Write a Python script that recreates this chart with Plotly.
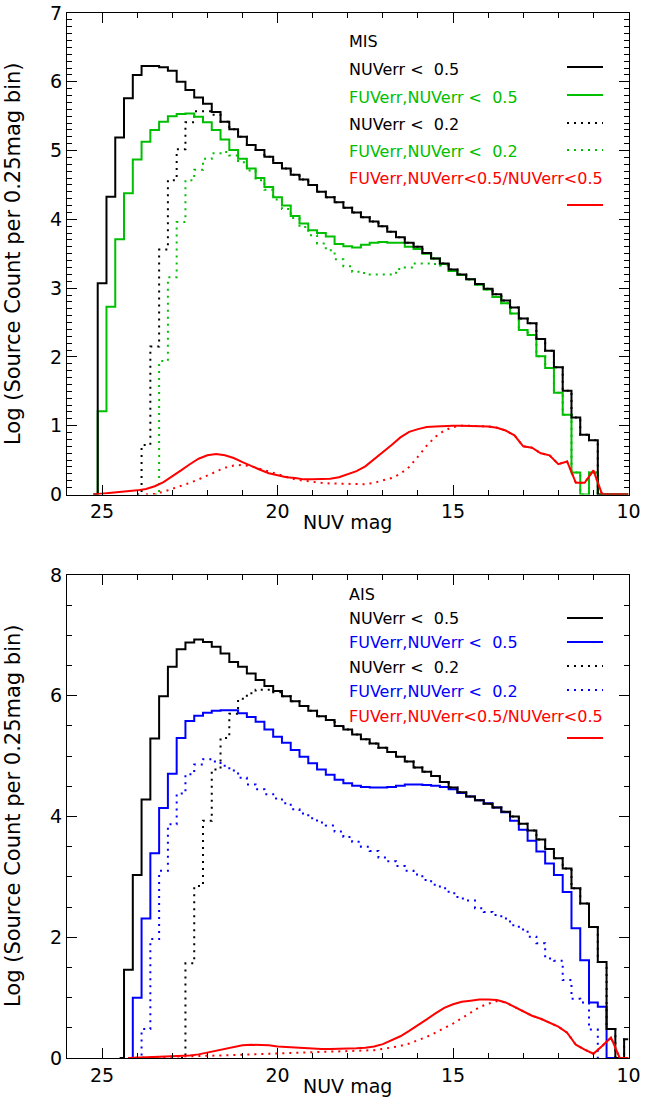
import plotly.graph_objects as go

# ---------------- data ----------------
# bin centres (NUV mag, 0.25 mag bins)
MAG = [25.25, 25.0, 24.75, 24.5, 24.25, 24.0, 23.75, 23.5,
       23.25, 23.0, 22.75, 22.5, 22.25, 22.0, 21.75, 21.5,
       21.25, 21.0, 20.75, 20.5, 20.25, 20.0, 19.75, 19.5,
       19.25, 19.0, 18.75, 18.5, 18.25, 18.0, 17.75, 17.5,
       17.25, 17.0, 16.75, 16.5, 16.25, 16.0, 15.75, 15.5,
       15.25, 15.0, 14.75, 14.5, 14.25, 14.0, 13.75, 13.5,
       13.25, 13.0, 12.75, 12.5, 12.25, 12.0, 11.75, 11.5,
       11.25, 11.0, 10.75, 10.5, 10.25, 10.0]

# ---- MIS panel ----
mis_nuv05 = [0, 3.07, 4.33, 5.19, 5.76, 6.10, 6.23, 6.23,
             6.21, 6.16, 6.00, 5.88, 5.77, 5.68, 5.56, 5.42,
             5.31, 5.20, 5.08, 5.01, 4.91, 4.82, 4.74, 4.65,
             4.58, 4.50, 4.40, 4.32, 4.25, 4.17, 4.10, 4.03,
             3.97, 3.90, 3.82, 3.74, 3.66, 3.60, 3.51, 3.43,
             3.36, 3.27, 3.20, 3.13, 3.06, 2.99, 2.91, 2.82,
             2.72, 2.56, 2.49, 2.26, 2.09, 1.85, 1.51, 1.12,
             0.87, 0.79, 0, 0, 0, 0]
mis_fuvnuv05 = [0, 1.21, 2.73, 3.71, 4.38, 4.87, 5.13, 5.30,
                5.42, 5.50, 5.53, 5.54, 5.49, 5.41, 5.30, 5.16,
                5.01, 4.88, 4.74, 4.60, 4.47, 4.32, 4.20, 4.05,
                3.94, 3.84, 3.80, 3.75, 3.64, 3.61, 3.59, 3.63,
                3.66, 3.67, 3.66, 3.66, 3.60, 3.57, 3.50, 3.43,
                3.35, 3.25, 3.19, 3.13, 3.05, 2.98, 2.87, 2.78,
                2.63, 2.39, 2.32, 2.01, 1.84, 1.48, 1.16, 0.32,
                0, 0.32, 0, 0, 0, 0]
mis_nuv02 = [None, None, None, None, None, 0, 0.72, 2.15,
             3.56, 4.57, 5.02, 5.41, 5.57, 5.57, 5.52, 5.42,
             5.31, 5.20, 5.08, 5.01, 4.91, 4.82, 4.74, 4.65,
             4.58, 4.50, 4.40, 4.32, 4.25, 4.17, 4.10, 4.03,
             3.97, 3.90, 3.82, 3.74, 3.66, 3.60, 3.51, 3.43,
             3.36, 3.27, 3.20, 3.13, 3.06, 2.99, 2.91, 2.82,
             2.72, 2.56, 2.49, 2.26, 2.09, 1.85, 1.51, 1.12,
             0.87, 0.79, 0, None, None, None]
mis_fuvnuv02 = [None, None, None, None, None, None, None, 0,
                1.94, 3.16, 3.96, 4.57, 4.72, 4.88, 4.96, 4.98,
                4.93, 4.83, 4.71, 4.57, 4.43, 4.29, 4.15, 4.02,
                3.89, 3.77, 3.65, 3.55, 3.42, 3.32, 3.24, 3.22,
                3.20, 3.20, 3.20, 3.28, 3.30, 3.36, 3.36, 3.35,
                3.33, 3.25, 3.19, 3.13, 3.05, 2.98, 2.87, 2.78,
                2.63, 2.39, 2.32, 2.01, 1.84, 1.48, 1.16, 0.32,
                0, 0.32, 0, None, None, None]
mis_ratio05 = [0, 0.01, 0.02, 0.03, 0.04, 0.06, 0.08, 0.12,
               0.18, 0.26, 0.35, 0.44, 0.52, 0.57, 0.59, 0.57,
               0.53, 0.47, 0.41, 0.36, 0.31, 0.28, 0.25, 0.24,
               0.22, 0.22, 0.22, 0.23, 0.25, 0.29, 0.34, 0.41,
               0.51, 0.61, 0.72, 0.83, 0.91, 0.95, 0.98, 0.99,
               1.00, 1.00, 1.00, 1.00, 1.00, 0.99, 0.97, 0.93,
               0.86, 0.70, 0.68, 0.60, 0.57, 0.44, 0.48, 0.17,
               0.17, 0.35, 0, 0, 0, 0]
mis_ratio02 = [None, None, None, None, None, None, 0, 0.01,
               0.04, 0.08, 0.12, 0.17, 0.22, 0.28, 0.34, 0.39,
               0.42, 0.43, 0.41, 0.37, 0.34, 0.30, 0.26, 0.22,
               0.20, 0.18, 0.17, 0.16, 0.16, 0.16, 0.15, 0.15,
               0.17, 0.20, 0.24, 0.30, 0.40, 0.55, 0.71, 0.84,
               0.93, 0.98, 1.00, 1.00, 1.00, 0.99, 0.97, 0.93,
               0.86, 0.70, 0.68, 0.60, 0.57, 0.44, 0.48, 0.17,
               0.17, 0.35, 0, 0, 0, 0]

# ---- AIS panel ----
ais_nuv05 = [None, None, None, 0, 1.46, 3.03, 4.28, 5.29,
             5.99, 6.48, 6.77, 6.88, 6.93, 6.89, 6.81, 6.70,
             6.56, 6.48, 6.37, 6.26, 6.16, 6.08, 5.99, 5.91,
             5.83, 5.75, 5.66, 5.60, 5.50, 5.44, 5.36, 5.28,
             5.21, 5.14, 5.07, 4.99, 4.91, 4.81, 4.74, 4.67,
             4.57, 4.48, 4.40, 4.33, 4.27, 4.21, 4.15, 4.08,
             4.00, 3.88, 3.77, 3.62, 3.46, 3.31, 3.14, 2.81,
             2.56, 2.17, 1.59, 0.48, 0, 0.31]
ais_fuvnuv05 = [None, None, None, None, 0, 1.00, 2.31, 3.39,
                4.14, 4.71, 5.30, 5.58, 5.67, 5.72, 5.75, 5.76,
                5.76, 5.71, 5.65, 5.57, 5.44, 5.32, 5.22, 5.10,
                4.99, 4.88, 4.78, 4.69, 4.61, 4.55, 4.51, 4.49,
                4.48, 4.48, 4.49, 4.51, 4.53, 4.53, 4.52, 4.51,
                4.49, 4.45, 4.39, 4.33, 4.27, 4.22, 4.15, 4.07,
                3.93, 3.78, 3.60, 3.42, 3.22, 3.03, 2.75, 2.15,
                1.62, 0.92, 0.85, 0, 0, None]
ais_nuv02 = [None, None, None, None, None, None, None, None,
             None, None, 0, 1.57, 2.85, 3.93, 4.78, 5.30,
             5.70, 5.95, 6.04, 6.10, 6.10, 6.06, 5.99, 5.91,
             5.83, 5.75, 5.66, 5.60, 5.50, 5.44, 5.36, 5.28,
             5.21, 5.14, 5.07, 4.99, 4.91, 4.81, 4.74, 4.67,
             4.57, 4.48, 4.40, 4.33, 4.27, 4.21, 4.15, 4.08,
             4.00, 3.88, 3.77, 3.62, 3.46, 3.31, 3.14, 2.81,
             2.56, 2.17, 1.59, 0.48, 0, 0.31]
ais_fuvnuv02 = [None, None, None, None, None, 0, 0.48, 1.97,
                3.10, 3.87, 4.38, 4.70, 4.86, 4.95, 4.91, 4.84,
                4.76, 4.64, 4.53, 4.45, 4.37, 4.30, 4.22, 4.12,
                4.05, 3.97, 3.90, 3.85, 3.75, 3.66, 3.58, 3.50,
                3.43, 3.32, 3.26, 3.18, 3.10, 3.04, 2.95, 2.87,
                2.81, 2.73, 2.64, 2.61, 2.48, 2.42, 2.37, 2.31,
                2.20, 2.13, 2.01, 1.90, 1.65, 1.61, 1.29, 0.98,
                0.92, 0.47, 0, None, None, None]
ais_ratio05 = [None, None, None, None, 0, 0.005, 0.01, 0.015,
               0.02, 0.025, 0.03, 0.04, 0.06, 0.09, 0.12, 0.16,
               0.19, 0.21, 0.22, 0.22, 0.21, 0.19, 0.18, 0.17,
               0.16, 0.15, 0.15, 0.15, 0.15, 0.16, 0.16, 0.17,
               0.19, 0.23, 0.29, 0.36, 0.45, 0.54, 0.64, 0.74,
               0.83, 0.89, 0.93, 0.95, 0.97, 0.97, 0.96, 0.92,
               0.85, 0.77, 0.70, 0.65, 0.58, 0.52, 0.42, 0.22,
               0.14, 0.07, 0.20, 0.34, 0, 0]
ais_ratio02 = [None, None, None, None, 0, 0.003, 0.006, 0.01,
               0.013, 0.016, 0.02, 0.025, 0.03, 0.035, 0.04, 0.045,
               0.05, 0.055, 0.06, 0.065, 0.07, 0.075, 0.08, 0.085,
               0.09, 0.10, 0.10, 0.11, 0.11, 0.11, 0.12, 0.12,
               0.13, 0.15, 0.17, 0.20, 0.24, 0.29, 0.35, 0.42,
               0.49, 0.57, 0.66, 0.75, 0.84, 0.90, 0.94, 0.92,
               0.85, 0.77, 0.70, 0.65, 0.58, 0.52, 0.42, 0.22,
               0.14, 0.07, 0.20, 0.34, 0, 0]

X_TICKS = [25, 20, 15, 10]
MIS_Y_TICKS = [0, 1, 2, 3, 4, 5, 6, 7]
AIS_Y_TICKS = [0, 2, 4, 6, 8]

LEGEND_LABELS = ["NUVerr\u00a0<\u00a0\u00a00.5", "FUVerr,NUVerr\u00a0<\u00a0\u00a00.5",
                 "NUVerr\u00a0<\u00a0\u00a00.2", "FUVerr,NUVerr\u00a0<\u00a0\u00a00.2",
                 "FUVerr,NUVerr<0.5/NUVerr<0.5"]

# ---------------- style ----------------
W, H = 653, 1108
FONT = "DejaVu Sans"
BLACK = "black"
GREEN = "rgb(0,190,0)"
BLUE = "rgb(0,0,255)"
RED = "rgb(255,0,0)"
DOT = "2px,5px"
LW = 2


def px(x):
    return x / W


def py(y):
    return 1 - y / H


fig = go.Figure()


def add_hist(y, color, dash, xa, ya):
    fig.add_trace(go.Scatter(x=MAG, y=y, mode="lines", line_shape="hvh",
                             line=dict(color=color, width=LW, dash=dash),
                             connectgaps=False, showlegend=False,
                             xaxis=xa, yaxis=ya, hoverinfo="skip"))


def add_curve(y, color, dash, xa, ya):
    fig.add_trace(go.Scatter(x=MAG, y=y, mode="lines", line_shape="linear",
                             line=dict(color=color, width=LW, dash=dash),
                             connectgaps=False, showlegend=False,
                             xaxis=xa, yaxis=ya, hoverinfo="skip"))


# top panel (MIS)
add_hist(mis_fuvnuv02, GREEN, DOT, "x", "y")
add_hist(mis_nuv02, BLACK, DOT, "x", "y")
add_hist(mis_fuvnuv05, GREEN, "solid", "x", "y")
add_hist(mis_nuv05, BLACK, "solid", "x", "y")
add_curve(mis_ratio02, RED, DOT, "x", "y")
add_curve(mis_ratio05, RED, "solid", "x", "y")

# bottom panel (AIS)
add_hist(ais_fuvnuv02, BLUE, DOT, "x2", "y2")
add_hist(ais_nuv02, BLACK, DOT, "x2", "y2")
add_hist(ais_fuvnuv05, BLUE, "solid", "x2", "y2")
add_hist(ais_nuv05, BLACK, "solid", "x2", "y2")
add_curve(ais_ratio02, RED, DOT, "x2", "y2")
add_curve(ais_ratio05, RED, "solid", "x2", "y2")

XDOM = [px(67), px(628.5)]
TOP_DOM = [py(494.5), py(13)]
BOT_DOM = [py(1058), py(575)]

tickfont = dict(family=FONT, size=19, color="black")


def xaxis_cfg(anchor):
    return dict(domain=XDOM, anchor=anchor, range=[26, 10], tickmode="array",
                tickvals=X_TICKS, ticktext=[str(v) for v in X_TICKS],
                ticks="inside", ticklen=10, tickwidth=1, tickcolor="black",
                mirror="allticks", showline=True, linecolor="black", linewidth=1,
                showgrid=False, zeroline=False, tickfont=tickfont,
                minor=dict(ticks="inside", dtick=1, tick0=10, ticklen=5,
                           tickwidth=1, tickcolor="black", showgrid=False),
                automargin=False, fixedrange=True)


def yaxis_cfg(anchor, dom, rng, vals, minor_dt):
    return dict(domain=dom, anchor=anchor, range=rng, tickmode="array",
                tickvals=vals, ticktext=[str(v) for v in vals],
                ticks="inside", ticklen=10, tickwidth=1, tickcolor="black",
                mirror="allticks", showline=True, linecolor="black", linewidth=1,
                showgrid=False, zeroline=False, tickfont=tickfont,
                minor=dict(ticks="inside", dtick=minor_dt, tick0=0, ticklen=5,
                           tickwidth=1, tickcolor="black", showgrid=False),
                automargin=False, fixedrange=True)


annotations = []
shapes = []


def text(x, y, s, color="black", size=16, angle=0, xanchor="left"):
    annotations.append(dict(x=px(x), y=py(y), xref="paper", yref="paper",
                            text=s, showarrow=False, xanchor=xanchor,
                            yanchor="middle", textangle=angle,
                            font=dict(family=FONT, size=size, color=color)))


def sample(y, color, dash):
    shapes.append(dict(type="line", xref="paper", yref="paper",
                       x0=px(567), x1=px(603), y0=py(y), y1=py(y),
                       line=dict(color=color, width=LW, dash=dash)))


# legend, top
text(347, 42, "MIS")
text(347, 69, LEGEND_LABELS[0], BLACK)
text(347, 97, LEGEND_LABELS[1], GREEN)
text(347, 124, LEGEND_LABELS[2], BLACK)
text(347, 152, LEGEND_LABELS[3], GREEN)
text(347, 179, LEGEND_LABELS[4], RED)
sample(67, BLACK, "solid")
sample(95, GREEN, "solid")
sample(123, BLACK, DOT)
sample(150, GREEN, DOT)
sample(205, RED, "solid")

# legend, bottom
text(347, 594, "AIS")
text(347, 619, LEGEND_LABELS[0], BLACK)
text(347, 642, LEGEND_LABELS[1], BLUE)
text(347, 667, LEGEND_LABELS[2], BLACK)
text(347, 691, LEGEND_LABELS[3], BLUE)
text(347, 716, LEGEND_LABELS[4], RED)
sample(618, BLACK, "solid")
sample(642, BLUE, "solid")
sample(666, BLACK, DOT)
sample(690, BLUE, DOT)
sample(738, RED, "solid")

# axis titles
text(347.5, 522, "NUV mag", size=19, xanchor="center")
text(347.5, 1086, "NUV mag", size=19, xanchor="center")
text(13, 254, "Log (Source Count per 0.25mag bin)", size=21, angle=-90, xanchor="center")
text(13, 816, "Log (Source Count per 0.25mag bin)", size=21, angle=-90, xanchor="center")

fig.update_layout(
    width=W, height=H, margin=dict(l=0, r=0, t=0, b=0),
    paper_bgcolor="white", plot_bgcolor="white", showlegend=False,
    xaxis=xaxis_cfg("y"), yaxis=yaxis_cfg("x", TOP_DOM, [0, 7], MIS_Y_TICKS, 0.1),
    xaxis2=xaxis_cfg("y2"), yaxis2=yaxis_cfg("x2", BOT_DOM, [0, 8], AIS_Y_TICKS, 0.5),
    annotations=annotations, shapes=shapes,
)

fig.write_html("out.html", config={"displayModeBar": False},
               post_script="document.body.style.margin='0px';document.body.style.overflow='hidden';")
